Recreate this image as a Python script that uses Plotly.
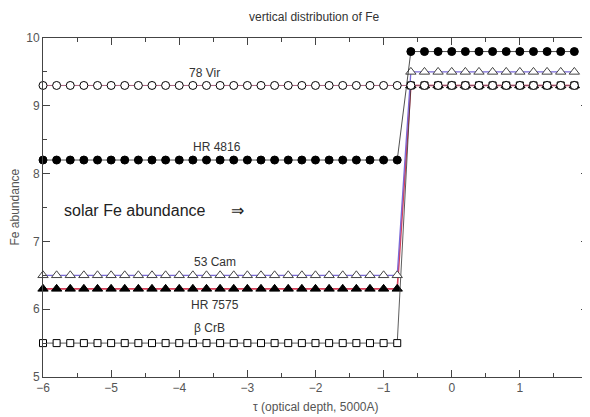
import plotly.graph_objects as go

tau = [-6.0, -5.8, -5.6, -5.4, -5.2, -5.0, -4.8, -4.6, -4.4, -4.2,
       -4.0, -3.8, -3.6, -3.4, -3.2, -3.0, -2.8, -2.6, -2.4, -2.2,
       -2.0, -1.8, -1.6, -1.4, -1.2, -1.0, -0.8, -0.6, -0.4, -0.2,
       0.0, 0.2, 0.4, 0.6, 0.8, 1.0, 1.2, 1.4, 1.6, 1.8]

vir78 = [9.3, 9.3, 9.3, 9.3, 9.3, 9.3, 9.3, 9.3, 9.3, 9.3,
         9.3, 9.3, 9.3, 9.3, 9.3, 9.3, 9.3, 9.3, 9.3, 9.3,
         9.3, 9.3, 9.3, 9.3, 9.3, 9.3, 9.3, 9.3, 9.3, 9.3,
         9.3, 9.3, 9.3, 9.3, 9.3, 9.3, 9.3, 9.3, 9.3, 9.3]

hr4816 = [8.2, 8.2, 8.2, 8.2, 8.2, 8.2, 8.2, 8.2, 8.2, 8.2,
          8.2, 8.2, 8.2, 8.2, 8.2, 8.2, 8.2, 8.2, 8.2, 8.2,
          8.2, 8.2, 8.2, 8.2, 8.2, 8.2, 8.2, 9.8, 9.8, 9.8,
          9.8, 9.8, 9.8, 9.8, 9.8, 9.8, 9.8, 9.8, 9.8, 9.8]

cam53 = [6.5, 6.5, 6.5, 6.5, 6.5, 6.5, 6.5, 6.5, 6.5, 6.5,
         6.5, 6.5, 6.5, 6.5, 6.5, 6.5, 6.5, 6.5, 6.5, 6.5,
         6.5, 6.5, 6.5, 6.5, 6.5, 6.5, 6.5, 9.5, 9.5, 9.5,
         9.5, 9.5, 9.5, 9.5, 9.5, 9.5, 9.5, 9.5, 9.5, 9.5]

hr7575 = [6.3, 6.3, 6.3, 6.3, 6.3, 6.3, 6.3, 6.3, 6.3, 6.3,
          6.3, 6.3, 6.3, 6.3, 6.3, 6.3, 6.3, 6.3, 6.3, 6.3,
          6.3, 6.3, 6.3, 6.3, 6.3, 6.3, 6.3, 9.3, 9.3, 9.3,
          9.3, 9.3, 9.3, 9.3, 9.3, 9.3, 9.3, 9.3, 9.3, 9.3]

bcrb = [5.5, 5.5, 5.5, 5.5, 5.5, 5.5, 5.5, 5.5, 5.5, 5.5,
        5.5, 5.5, 5.5, 5.5, 5.5, 5.5, 5.5, 5.5, 5.5, 5.5,
        5.5, 5.5, 5.5, 5.5, 5.5, 5.5, 5.5, 9.3, 9.3, 9.3,
        9.3, 9.3, 9.3, 9.3, 9.3, 9.3, 9.3, 9.3, 9.3, 9.3]

series_labels = ["78 Vir", "HR 4816", "53 Cam", "HR 7575", "\u03b2 CrB"]
label_x = [-3.63, -3.44, -3.48, -3.48, -3.55]
label_y = [9.49, 8.39, 6.70, 6.06, 5.72]

FONT = "Liberation Sans, Arial, sans-serif"
GRAY = "#555555"

fig = go.Figure()

fig.add_trace(go.Scatter(
    x=tau, y=hr7575, mode="lines+markers", name=series_labels[3],
    line=dict(color="#d8405a", width=1.6),
    marker=dict(symbol="triangle-up", size=9, color="black",
                line=dict(color="black", width=1)),
    cliponaxis=False))

fig.add_trace(go.Scatter(
    x=tau, y=bcrb, mode="lines+markers", name=series_labels[4],
    line=dict(color="#333333", width=0.8),
    marker=dict(symbol="square", size=7, color="white",
                line=dict(color="black", width=1)),
    cliponaxis=False))

fig.add_trace(go.Scatter(
    x=tau, y=cam53, mode="lines+markers", name=series_labels[2],
    line=dict(color="#7a6ad8", width=1.3),
    marker=dict(symbol="triangle-up", size=9, color="white",
                line=dict(color="#444444", width=1)),
    cliponaxis=False))

fig.add_trace(go.Scatter(
    x=tau, y=hr4816, mode="lines+markers", name=series_labels[1],
    line=dict(color="#222222", width=0.8),
    marker=dict(symbol="circle", size=8, color="black",
                line=dict(color="black", width=1)),
    cliponaxis=False))

fig.add_trace(go.Scatter(
    x=tau, y=vir78, mode="lines+markers", name=series_labels[0],
    line=dict(color="#a05070", width=0.9),
    marker=dict(symbol="circle", size=8, color="white",
                line=dict(color="black", width=1)),
    cliponaxis=False))

for txt, lx, ly in zip(series_labels, label_x, label_y):
    fig.add_annotation(x=lx, y=ly, text=txt, showarrow=False,
                       font=dict(family=FONT, size=12, color="#333333"))

fig.add_annotation(x=-5.72, y=7.45, text="solar Fe abundance",
                   xanchor="left", showarrow=False,
                   font=dict(family=FONT, size=16, color="#222222"))
fig.add_annotation(x=-3.15, y=7.45, text="\u21d2",
                   xanchor="center", showarrow=False,
                   font=dict(family=FONT, size=16, color="#222222"))

# axis titles as paper annotations for exact placement
fig.add_annotation(xref="paper", yref="paper", x=0.5, y=0, yshift=-30,
                   yanchor="middle", text="\u03c4 (optical depth, 5000A)",
                   showarrow=False,
                   font=dict(family=FONT, size=12, color=GRAY))
fig.add_annotation(xref="paper", yref="paper", x=0, xshift=-29, y=0.5,
                   xanchor="center", textangle=-90, text="Fe abundance",
                   showarrow=False,
                   font=dict(family=FONT, size=12, color=GRAY))

axis_common = dict(
    showline=True, linecolor="#444444", linewidth=1, mirror="ticks",
    ticks="inside", ticklen=7, tickcolor="#444444", tickwidth=1,
    showgrid=False, zeroline=False, automargin=False,
    tickfont=dict(family=FONT, size=12, color=GRAY),
    ticklabeloverflow="allow",
)

fig.update_xaxes(range=[-6, 2.0005], dtick=1, tick0=-6,
                 minor=dict(ticks="inside", ticklen=4, dtick=0.5, tickcolor="#444444"),
                 **axis_common)
fig.update_yaxes(range=[5, 10], dtick=1, tick0=5,
                 minor=dict(ticks="inside", ticklen=4, dtick=0.5, tickcolor="#444444"),
                 **axis_common)

# the page body adds an 8px offset; size the figure so it fits the window
fig.update_layout(
    width=582, height=409,
    margin=dict(l=35, r=2, t=30, b=40),
    paper_bgcolor="white", plot_bgcolor="white",
    showlegend=False,
    title=dict(text="vertical distribution of Fe", x=0.526, xanchor="center",
               y=0.978, yanchor="middle",
               font=dict(family=FONT, size=12, color="#333333")),
)

fig.write_html("out.html")
